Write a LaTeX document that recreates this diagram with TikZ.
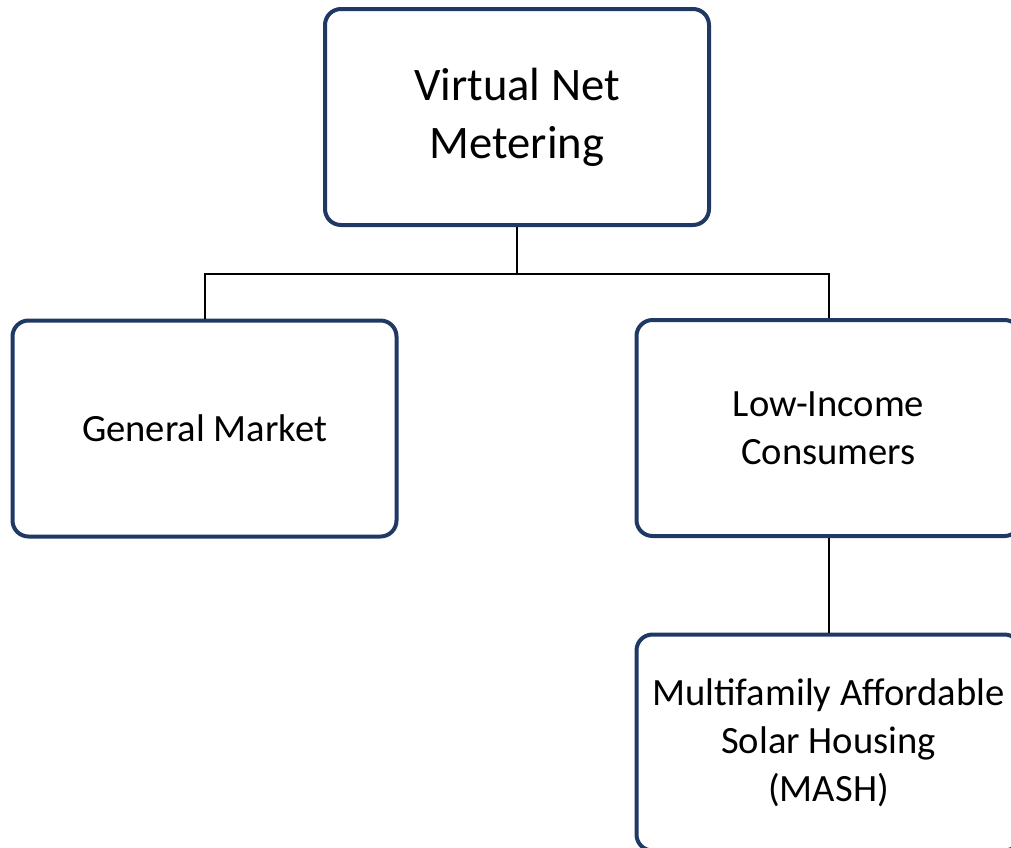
\documentclass[tikz,border=0pt]{standalone}
\usepackage{fontspec}
\setmainfont{Carlito}
\usepackage{xcolor}
\usepackage{tikz}
\usetikzlibrary{positioning}

\definecolor{boxblue}{RGB}{31,56,100}

\begin{document}
\begin{tikzpicture}[x=0.5pt, y=-0.5pt,
  every box/.style={draw=boxblue, line width=2pt, rounded corners=8pt, fill=white,
    minimum width=192pt, minimum height=108pt, align=center, inner sep=0pt,
    font=\fontsize{19.3}{24}\selectfont},
  box top/.style={font=\fontsize{23.3}{29}\selectfont},
  link/.style={draw=black, line width=1pt}]

\clip (0,0) rectangle (1011,847);

\node [every box, box top] (vnm) at (517,117) {Virtual Net\\Metering};
\node [every box] (general) at (204.5,428.5) {General Market};
\node [every box] (lowinc) at (828.5,428) {Low-Income\\Consumers};
\node [every box] (mash) at (828.5,742.5) {Multifamily Affordable\\Solar Housing\\(MASH)};

\coordinate (split) at (517,274);

\draw [link] (vnm.south) -- (split);
\draw [link] (general.north) |- (split) -| (lowinc.north);
\draw [link] (lowinc.south) -- (mash.north);

\end{tikzpicture}
\end{document}
